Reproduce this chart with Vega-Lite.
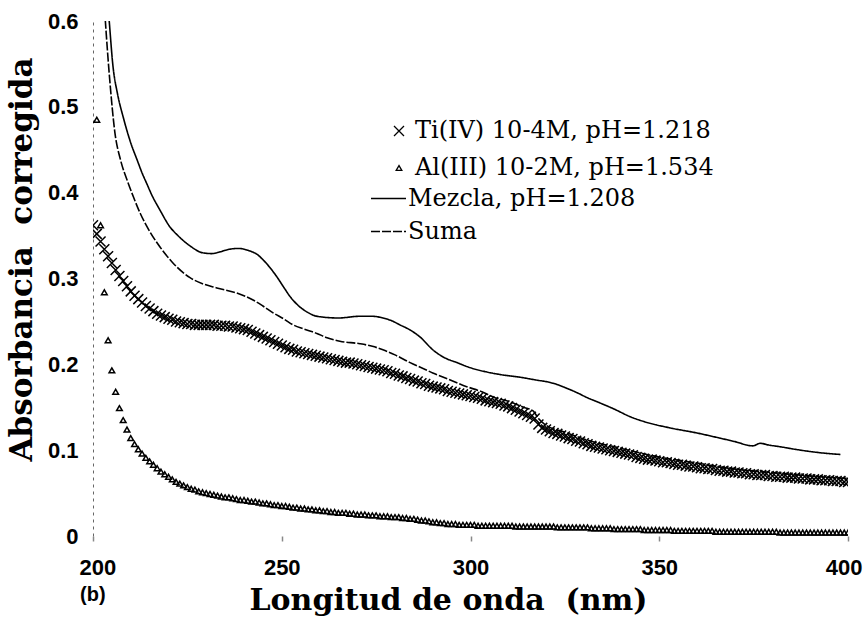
{
"$schema": "https://vega.github.io/schema/vega-lite/v6.json",
"width": 755, "height": 515,
"autosize": {"type": "none"},
"padding": {"left": 93, "top": 21, "right": 16, "bottom": 89},
"background": "white",
"config": {"view": {"stroke": null}, "axis": {"grid": false}, "legend": {"labelFont": "DejaVu Serif", "labelLimit": 0}},
"title": {"text": "(b)", "orient": "bottom", "anchor": "start", "frame": "group", "offset": -30, "dx": -13, "font": "Liberation Sans", "fontWeight": "bold", "fontSize": 20, "color": "black"},
"datasets": {
"pts": [
{"nm":200,"ti":0.362},{"nm":201,"ti":0.352,"al":0.485},{"nm":202,"ti":0.343,"al":0.362},{"nm":203,"ti":0.334,"al":0.284},{"nm":204,"ti":0.326,"al":0.228},{"nm":205,"ti":0.318,"al":0.193},{"nm":206,"ti":0.310,"al":0.168},{"nm":207,"ti":0.303,"al":0.149},{"nm":208,"ti":0.297,"al":0.135},{"nm":209,"ti":0.291,"al":0.124},
{"nm":210,"ti":0.285,"al":0.114},{"nm":211,"ti":0.280,"al":0.107},{"nm":212,"ti":0.276,"al":0.101},{"nm":213,"ti":0.272,"al":0.096},{"nm":214,"ti":0.268,"al":0.091},{"nm":215,"ti":0.265,"al":0.087},{"nm":216,"ti":0.262,"al":0.083},{"nm":217,"ti":0.259,"al":0.079},{"nm":218,"ti":0.257,"al":0.075},{"nm":219,"ti":0.255,"al":0.072},
{"nm":220,"ti":0.253,"al":0.069},{"nm":221,"ti":0.252,"al":0.066},{"nm":222,"ti":0.250,"al":0.063},{"nm":223,"ti":0.249,"al":0.061},{"nm":224,"ti":0.248,"al":0.059},{"nm":225,"ti":0.247,"al":0.057},{"nm":226,"ti":0.247,"al":0.055},{"nm":227,"ti":0.246,"al":0.054},{"nm":228,"ti":0.246,"al":0.052},{"nm":229,"ti":0.246,"al":0.051},
{"nm":230,"ti":0.246,"al":0.050},{"nm":231,"ti":0.246,"al":0.049},{"nm":232,"ti":0.246,"al":0.048},{"nm":233,"ti":0.245,"al":0.047},{"nm":234,"ti":0.245,"al":0.046},{"nm":235,"ti":0.245,"al":0.045},{"nm":236,"ti":0.244,"al":0.045},{"nm":237,"ti":0.244,"al":0.044},{"nm":238,"ti":0.243,"al":0.043},{"nm":239,"ti":0.242,"al":0.042},
{"nm":240,"ti":0.241,"al":0.042},{"nm":241,"ti":0.240,"al":0.041},{"nm":242,"ti":0.238,"al":0.040},{"nm":243,"ti":0.236,"al":0.040},{"nm":244,"ti":0.234,"al":0.039},{"nm":245,"ti":0.232,"al":0.038},{"nm":246,"ti":0.230,"al":0.038},{"nm":247,"ti":0.228,"al":0.037},{"nm":248,"ti":0.226,"al":0.036},{"nm":249,"ti":0.224,"al":0.036},
{"nm":250,"ti":0.222,"al":0.035},{"nm":251,"ti":0.220,"al":0.035},{"nm":252,"ti":0.218,"al":0.034},{"nm":253,"ti":0.217,"al":0.033},{"nm":254,"ti":0.215,"al":0.033},{"nm":255,"ti":0.214,"al":0.032},{"nm":256,"ti":0.213,"al":0.032},{"nm":257,"ti":0.212,"al":0.031},{"nm":258,"ti":0.211,"al":0.031},{"nm":259,"ti":0.210,"al":0.030},
{"nm":260,"ti":0.209,"al":0.030},{"nm":261,"ti":0.208,"al":0.029},{"nm":262,"ti":0.207,"al":0.029},{"nm":263,"ti":0.206,"al":0.028},{"nm":264,"ti":0.205,"al":0.028},{"nm":265,"ti":0.204,"al":0.027},{"nm":266,"ti":0.203,"al":0.027},{"nm":267,"ti":0.202,"al":0.027},{"nm":268,"ti":0.202,"al":0.026},{"nm":269,"ti":0.201,"al":0.026},
{"nm":270,"ti":0.200,"al":0.025},{"nm":271,"ti":0.199,"al":0.025},{"nm":272,"ti":0.198,"al":0.025},{"nm":273,"ti":0.197,"al":0.024},{"nm":274,"ti":0.196,"al":0.024},{"nm":275,"ti":0.195,"al":0.024},{"nm":276,"ti":0.194,"al":0.023},{"nm":277,"ti":0.193,"al":0.023},{"nm":278,"ti":0.192,"al":0.023},{"nm":279,"ti":0.190,"al":0.022},
{"nm":280,"ti":0.189,"al":0.022},{"nm":281,"ti":0.187,"al":0.022},{"nm":282,"ti":0.186,"al":0.021},{"nm":283,"ti":0.184,"al":0.021},{"nm":284,"ti":0.183,"al":0.020},{"nm":285,"ti":0.181,"al":0.020},{"nm":286,"ti":0.180,"al":0.019},{"nm":287,"ti":0.178,"al":0.018},{"nm":288,"ti":0.177,"al":0.018},{"nm":289,"ti":0.175,"al":0.017},
{"nm":290,"ti":0.174,"al":0.016},{"nm":291,"ti":0.173,"al":0.016},{"nm":292,"ti":0.172,"al":0.015},{"nm":293,"ti":0.171,"al":0.015},{"nm":294,"ti":0.169,"al":0.014},{"nm":295,"ti":0.168,"al":0.014},{"nm":296,"ti":0.167,"al":0.014},{"nm":297,"ti":0.166,"al":0.013},{"nm":298,"ti":0.165,"al":0.013},{"nm":299,"ti":0.164,"al":0.013},
{"nm":300,"ti":0.163,"al":0.013},{"nm":301,"ti":0.162,"al":0.013},{"nm":302,"ti":0.161,"al":0.012},{"nm":303,"ti":0.160,"al":0.012},{"nm":304,"ti":0.158,"al":0.012},{"nm":305,"ti":0.157,"al":0.012},{"nm":306,"ti":0.156,"al":0.012},{"nm":307,"ti":0.155,"al":0.012},{"nm":308,"ti":0.154,"al":0.012},{"nm":309,"ti":0.152,"al":0.012},
{"nm":310,"ti":0.151,"al":0.012},{"nm":311,"ti":0.149,"al":0.012},{"nm":312,"ti":0.147,"al":0.011},{"nm":313,"ti":0.145,"al":0.011},{"nm":314,"ti":0.143,"al":0.011},{"nm":315,"ti":0.141,"al":0.011},{"nm":316,"ti":0.139,"al":0.011},{"nm":317,"ti":0.137,"al":0.011},{"nm":318,"ti":0.130,"al":0.011},{"nm":319,"ti":0.126,"al":0.011},
{"nm":320,"ti":0.124,"al":0.011},{"nm":321,"ti":0.122,"al":0.011},{"nm":322,"ti":0.120,"al":0.011},{"nm":323,"ti":0.119,"al":0.010},{"nm":324,"ti":0.117,"al":0.010},{"nm":325,"ti":0.116,"al":0.010},{"nm":326,"ti":0.114,"al":0.010},{"nm":327,"ti":0.113,"al":0.010},{"nm":328,"ti":0.111,"al":0.010},{"nm":329,"ti":0.110,"al":0.010},
{"nm":330,"ti":0.108,"al":0.010},{"nm":331,"ti":0.107,"al":0.010},{"nm":332,"ti":0.105,"al":0.009},{"nm":333,"ti":0.104,"al":0.009},{"nm":334,"ti":0.103,"al":0.009},{"nm":335,"ti":0.102,"al":0.009},{"nm":336,"ti":0.101,"al":0.009},{"nm":337,"ti":0.100,"al":0.009},{"nm":338,"ti":0.099,"al":0.008},{"nm":339,"ti":0.098,"al":0.008},
{"nm":340,"ti":0.097,"al":0.008},{"nm":341,"ti":0.096,"al":0.008},{"nm":342,"ti":0.095,"al":0.008},{"nm":343,"ti":0.094,"al":0.008},{"nm":344,"ti":0.092,"al":0.008},{"nm":345,"ti":0.091,"al":0.008},{"nm":346,"ti":0.090,"al":0.007},{"nm":347,"ti":0.089,"al":0.007},{"nm":348,"ti":0.089,"al":0.007},{"nm":349,"ti":0.088,"al":0.007},
{"nm":350,"ti":0.087,"al":0.007},{"nm":351,"ti":0.086,"al":0.007},{"nm":352,"ti":0.086,"al":0.007},{"nm":353,"ti":0.085,"al":0.007},{"nm":354,"ti":0.084,"al":0.006},{"nm":355,"ti":0.083,"al":0.006},{"nm":356,"ti":0.083,"al":0.006},{"nm":357,"ti":0.082,"al":0.006},{"nm":358,"ti":0.081,"al":0.006},{"nm":359,"ti":0.081,"al":0.006},
{"nm":360,"ti":0.080,"al":0.006},{"nm":361,"ti":0.079,"al":0.006},{"nm":362,"ti":0.079,"al":0.006},{"nm":363,"ti":0.078,"al":0.006},{"nm":364,"ti":0.078,"al":0.006},{"nm":365,"ti":0.077,"al":0.005},{"nm":366,"ti":0.076,"al":0.005},{"nm":367,"ti":0.076,"al":0.005},{"nm":368,"ti":0.075,"al":0.005},{"nm":369,"ti":0.075,"al":0.005},
{"nm":370,"ti":0.074,"al":0.005},{"nm":371,"ti":0.074,"al":0.005},{"nm":372,"ti":0.073,"al":0.005},{"nm":373,"ti":0.073,"al":0.005},{"nm":374,"ti":0.072,"al":0.005},{"nm":375,"ti":0.072,"al":0.005},{"nm":376,"ti":0.071,"al":0.005},{"nm":377,"ti":0.071,"al":0.005},{"nm":378,"ti":0.071,"al":0.005},{"nm":379,"ti":0.070,"al":0.005},
{"nm":380,"ti":0.070,"al":0.005},{"nm":381,"ti":0.069,"al":0.005},{"nm":382,"ti":0.069,"al":0.004},{"nm":383,"ti":0.069,"al":0.004},{"nm":384,"ti":0.068,"al":0.004},{"nm":385,"ti":0.068,"al":0.004},{"nm":386,"ti":0.068,"al":0.004},{"nm":387,"ti":0.067,"al":0.004},{"nm":388,"ti":0.067,"al":0.004},{"nm":389,"ti":0.067,"al":0.004},
{"nm":390,"ti":0.066,"al":0.004},{"nm":391,"ti":0.066,"al":0.004},{"nm":392,"ti":0.066,"al":0.004},{"nm":393,"ti":0.065,"al":0.004},{"nm":394,"ti":0.065,"al":0.004},{"nm":395,"ti":0.065,"al":0.004},{"nm":396,"ti":0.064,"al":0.004},{"nm":397,"ti":0.064,"al":0.004},{"nm":398,"ti":0.064,"al":0.004},{"nm":399,"ti":0.063,"al":0.004},
{"nm":400,"ti":0.063,"al":0.004}
],
"lines": [
{"nm":203.5,"a":0.64,"s":"Mezcla, pH=1.208"},{"nm":204.2,"a":0.605,"s":"Mezcla, pH=1.208"},{"nm":205.3,"a":0.547,"s":"Mezcla, pH=1.208"},{"nm":206.5,"a":0.515,"s":"Mezcla, pH=1.208"},{"nm":208,"a":0.488,"s":"Mezcla, pH=1.208"},{"nm":210,"a":0.458,"s":"Mezcla, pH=1.208"},{"nm":211.7,"a":0.438,"s":"Mezcla, pH=1.208"},{"nm":213,"a":0.423,"s":"Mezcla, pH=1.208"},{"nm":214.3,"a":0.41,"s":"Mezcla, pH=1.208"},{"nm":215.5,"a":0.398,"s":"Mezcla, pH=1.208"},
{"nm":217.7,"a":0.38,"s":"Mezcla, pH=1.208"},{"nm":220.4,"a":0.36,"s":"Mezcla, pH=1.208"},{"nm":222.5,"a":0.35,"s":"Mezcla, pH=1.208"},{"nm":225.7,"a":0.338,"s":"Mezcla, pH=1.208"},{"nm":229,"a":0.33,"s":"Mezcla, pH=1.208"},{"nm":231.5,"a":0.329,"s":"Mezcla, pH=1.208"},{"nm":233.6,"a":0.331,"s":"Mezcla, pH=1.208"},{"nm":236,"a":0.334,"s":"Mezcla, pH=1.208"},{"nm":238.5,"a":0.335,"s":"Mezcla, pH=1.208"},{"nm":241.6,"a":0.332,"s":"Mezcla, pH=1.208"},
{"nm":243.5,"a":0.328,"s":"Mezcla, pH=1.208"},{"nm":245,"a":0.322,"s":"Mezcla, pH=1.208"},{"nm":247,"a":0.312,"s":"Mezcla, pH=1.208"},{"nm":248.7,"a":0.302,"s":"Mezcla, pH=1.208"},{"nm":250.5,"a":0.29,"s":"Mezcla, pH=1.208"},{"nm":252.2,"a":0.279,"s":"Mezcla, pH=1.208"},{"nm":254.5,"a":0.268,"s":"Mezcla, pH=1.208"},{"nm":256.7,"a":0.261,"s":"Mezcla, pH=1.208"},{"nm":258.5,"a":0.257,"s":"Mezcla, pH=1.208"},{"nm":261,"a":0.255,"s":"Mezcla, pH=1.208"},
{"nm":265,"a":0.254,"s":"Mezcla, pH=1.208"},{"nm":270.7,"a":0.256,"s":"Mezcla, pH=1.208"},{"nm":274,"a":0.256,"s":"Mezcla, pH=1.208"},{"nm":276.8,"a":0.254,"s":"Mezcla, pH=1.208"},{"nm":279,"a":0.251,"s":"Mezcla, pH=1.208"},{"nm":281.3,"a":0.246,"s":"Mezcla, pH=1.208"},{"nm":284,"a":0.24,"s":"Mezcla, pH=1.208"},{"nm":286.6,"a":0.232,"s":"Mezcla, pH=1.208"},{"nm":290,"a":0.217,"s":"Mezcla, pH=1.208"},{"nm":293,"a":0.208,"s":"Mezcla, pH=1.208"},
{"nm":296.4,"a":0.202,"s":"Mezcla, pH=1.208"},{"nm":300,"a":0.196,"s":"Mezcla, pH=1.208"},{"nm":304.4,"a":0.191,"s":"Mezcla, pH=1.208"},{"nm":308,"a":0.188,"s":"Mezcla, pH=1.208"},{"nm":313.1,"a":0.185,"s":"Mezcla, pH=1.208"},{"nm":317,"a":0.182,"s":"Mezcla, pH=1.208"},{"nm":321.9,"a":0.178,"s":"Mezcla, pH=1.208"},{"nm":325,"a":0.173,"s":"Mezcla, pH=1.208"},{"nm":328.2,"a":0.167,"s":"Mezcla, pH=1.208"},{"nm":331,"a":0.161,"s":"Mezcla, pH=1.208"},
{"nm":334.3,"a":0.155,"s":"Mezcla, pH=1.208"},{"nm":338,"a":0.148,"s":"Mezcla, pH=1.208"},{"nm":342.3,"a":0.139,"s":"Mezcla, pH=1.208"},{"nm":347,"a":0.132,"s":"Mezcla, pH=1.208"},{"nm":352.8,"a":0.126,"s":"Mezcla, pH=1.208"},{"nm":360,"a":0.12,"s":"Mezcla, pH=1.208"},{"nm":366.1,"a":0.114,"s":"Mezcla, pH=1.208"},{"nm":370,"a":0.11,"s":"Mezcla, pH=1.208"},{"nm":374.8,"a":0.105,"s":"Mezcla, pH=1.208"},{"nm":376.7,"a":0.108,"s":"Mezcla, pH=1.208"},
{"nm":379,"a":0.106,"s":"Mezcla, pH=1.208"},{"nm":382,"a":0.104,"s":"Mezcla, pH=1.208"},{"nm":386,"a":0.101,"s":"Mezcla, pH=1.208"},{"nm":390.7,"a":0.098,"s":"Mezcla, pH=1.208"},{"nm":395,"a":0.096,"s":"Mezcla, pH=1.208"},{"nm":398,"a":0.095,"s":"Mezcla, pH=1.208"},
{"nm":202.7,"a":0.64,"s":"Suma"},{"nm":203.2,"a":0.605,"s":"Suma"},{"nm":204.5,"a":0.528,"s":"Suma"},{"nm":205.8,"a":0.47,"s":"Suma"},{"nm":207.3,"a":0.438,"s":"Suma"},{"nm":209,"a":0.415,"s":"Suma"},{"nm":210.8,"a":0.394,"s":"Suma"},{"nm":212.5,"a":0.376,"s":"Suma"},{"nm":215,"a":0.355,"s":"Suma"},{"nm":217.7,"a":0.337,"s":"Suma"},
{"nm":221,"a":0.319,"s":"Suma"},{"nm":225.7,"a":0.301,"s":"Suma"},{"nm":229,"a":0.294,"s":"Suma"},{"nm":232.8,"a":0.289,"s":"Suma"},{"nm":238.1,"a":0.283,"s":"Suma"},{"nm":242.4,"a":0.275,"s":"Suma"},{"nm":245,"a":0.268,"s":"Suma"},{"nm":247.7,"a":0.26,"s":"Suma"},{"nm":250.5,"a":0.253,"s":"Suma"},{"nm":253,"a":0.246,"s":"Suma"},
{"nm":256,"a":0.241,"s":"Suma"},{"nm":259.3,"a":0.236,"s":"Suma"},{"nm":262,"a":0.231,"s":"Suma"},{"nm":265.4,"a":0.227,"s":"Suma"},{"nm":270.7,"a":0.224,"s":"Suma"},{"nm":274,"a":0.221,"s":"Suma"},{"nm":276.8,"a":0.217,"s":"Suma"},{"nm":280,"a":0.211,"s":"Suma"},{"nm":284,"a":0.202,"s":"Suma"},{"nm":287,"a":0.196,"s":"Suma"},
{"nm":290,"a":0.19,"s":"Suma"},{"nm":294,"a":0.183,"s":"Suma"},{"nm":299,"a":0.174,"s":"Suma"},{"nm":303,"a":0.168,"s":"Suma"},{"nm":306,"a":0.162,"s":"Suma"},{"nm":311.3,"a":0.155,"s":"Suma"},{"nm":314,"a":0.15,"s":"Suma"},{"nm":316.5,"a":0.146,"s":"Suma"},{"nm":318,"a":0.137,"s":"Suma"},{"nm":320,"a":0.129,"s":"Suma"},
{"nm":325,"a":0.121,"s":"Suma"},{"nm":330,"a":0.113,"s":"Suma"},{"nm":340,"a":0.102,"s":"Suma"},{"nm":350,"a":0.092,"s":"Suma"},{"nm":360,"a":0.085,"s":"Suma"},{"nm":370,"a":0.078,"s":"Suma"},{"nm":380,"a":0.074,"s":"Suma"},{"nm":390,"a":0.07,"s":"Suma"},{"nm":400,"a":0.067,"s":"Suma"}
]
},
"encoding": {
  "x": {"field": "nm", "type": "quantitative", "scale": {"domain": [200, 400], "nice": false, "zero": false},
        "axis": {"values": [200, 250, 300, 350, 400], "domain": false, "ticks": true, "tickSize": 5, "tickColor": "#888", "tickWidth": 1.5,
                 "labelFont": "Liberation Sans", "labelFontWeight": "bold", "labelFontSize": 22, "labelColor": "black", "labelPadding": 16,
                 "labelFlush": true, "labelFlushOffset": 14, "labelOverlap": false, "labelBound": false,
                 "title": "Longitud de onda\u00a0 (nm)", "titleFont": "DejaVu Serif", "titleFontWeight": "bold", "titleFontSize": 30, "titleColor": "black",
                 "titleX": 355, "titleY": 64, "titleBaseline": "middle", "titleAlign": "center"}},
  "y": {"field": "a", "type": "quantitative", "scale": {"domain": [0, 0.6], "nice": false},
        "axis": {"values": [0, 0.1, 0.2, 0.3, 0.4, 0.5, 0.6], "format": ".1~f", "domain": true, "domainDash": [3, 4], "domainColor": "#666", "domainWidth": 1,
                 "ticks": false, "labelPadding": 15, "labelFont": "Liberation Sans", "labelFontWeight": "bold", "labelFontSize": 22, "labelColor": "black",
                 "title": "Absorbancia\u00a0 corregida", "titleFont": "DejaVu Serif", "titleFontWeight": "bold", "titleFontSize": 31, "titleColor": "black",
                 "titleAngle": 270, "titleX": -71, "titleY": 238, "titleAlign": "center", "titleBaseline": "middle"}}
},
"layer": [
 {"data": {"name": "pts"},
  "transform": [{"fold": ["ti", "al"], "as": ["s", "a"]}, {"filter": "isValid(datum.a)"}],
  "mark": {"type": "point", "filled": false, "strokeWidth": 1.5, "color": "black", "opacity": 1, "clip": true},
  "encoding": {
    "shape": {"field": "s", "type": "nominal", "scale": {"domain": ["ti", "al"], "range": ["M-1,-1L1,1M1,-1L-1,1", "triangle-up"]},
      "legend": {"title": null, "orient": "none", "legendX": 294, "legendY": 98, "labelFont": "DejaVu Serif", "labelFontSize": 24, "labelColor": "black", "labelOffset": 4, "labelLimit": 0, "rowPadding": 13, "padding": 0, "symbolStrokeColor": "black", "symbolStrokeWidth": 1.3,
        "labelExpr": "datum.label == 'ti' ? 'Ti(IV) 10-4M, pH=1.218' : 'Al(III) 10-2M, pH=1.534'"}},
    "size": {"field": "s", "type": "nominal", "scale": {"domain": ["ti", "al"], "range": [100, 32]},
      "legend": {"title": null, "orient": "none", "legendX": 294, "legendY": 98, "labelFont": "DejaVu Serif", "labelFontSize": 24, "labelColor": "black", "labelOffset": 4, "labelLimit": 0, "rowPadding": 13, "padding": 0, "symbolStrokeColor": "black", "symbolStrokeWidth": 1.3,
        "labelExpr": "datum.label == 'ti' ? 'Ti(IV) 10-4M, pH=1.218' : 'Al(III) 10-2M, pH=1.534'"}}
  }},
 {"data": {"name": "lines"},
  "mark": {"type": "line", "color": "black", "strokeWidth": 1.6, "clip": true, "interpolate": "monotone"},
  "encoding": {
    "strokeDash": {"field": "s", "type": "nominal", "scale": {"domain": ["Mezcla, pH=1.208", "Suma"], "range": [[1, 0], [9, 2]]},
      "legend": {"title": null, "orient": "none", "legendX": 277, "legendY": 159, "labelFont": "DejaVu Serif", "labelFontSize": 24, "labelColor": "black", "labelOffset": 1, "labelLimit": 0, "rowPadding": 2, "padding": 0, "symbolSize": 1225, "symbolStrokeWidth": 1.5, "symbolStrokeColor": "black", "symbolType": "stroke"}}
  }}
]
}
